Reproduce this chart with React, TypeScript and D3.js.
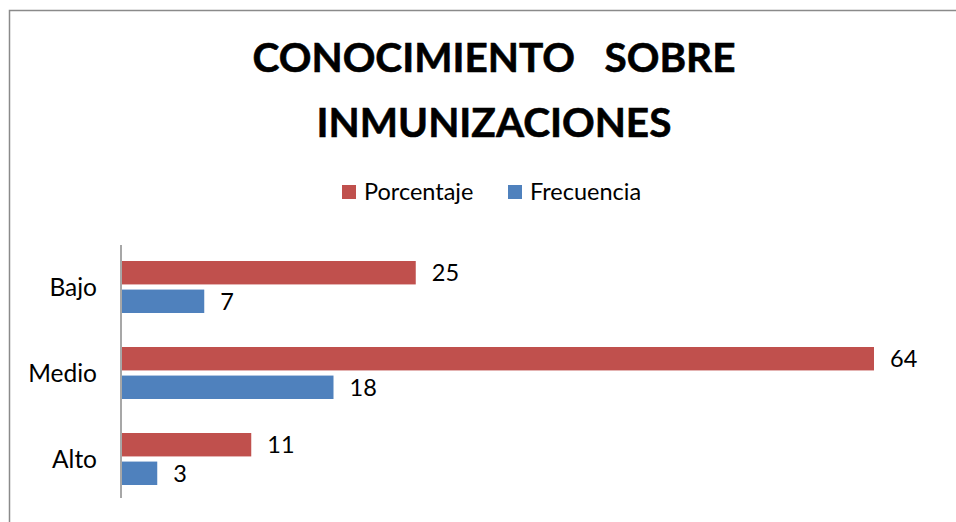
import React from "react";
import * as d3 from "d3";

const categories = ["Bajo", "Medio", "Alto"];
const seriesNames = ["Porcentaje", "Frecuencia"];
const porcentaje = [25, 64, 11];
const frecuencia = [7, 18, 3];
const titleLines = ["CONOCIMIENTO   SOBRE", "INMUNIZACIONES"];

const colors: Record<string, string> = {
  Porcentaje: "#C0504D",
  Frecuencia: "#4F81BD",
};

const W = 956;
const H = 522;
const font = "Lato, 'Open Sans', sans-serif";

const App = () => {
  const values: Record<string, number[]> = {
    Porcentaje: porcentaje,
    Frecuencia: frecuencia,
  };

  // horizontal value scale, bars start at the axis line
  const x = d3.scaleLinear().domain([0, 64]).range([122, 874]);
  const y = d3.scaleBand().domain(categories).range([244, 502]);
  const bw = y.bandwidth();
  const ySub = d3
    .scaleBand()
    .domain(seriesNames)
    .range([17, bw - 17])
    .paddingInner(0.18);

  return (
    <svg
      width={W}
      height={H}
      style={{ position: "absolute", left: 0, top: 0, background: "#fff" }}
    >
      {/* chart border (only left/top visible in frame) */}
      <rect
        x={9.5}
        y={10.5}
        width={W + 20}
        height={H + 20}
        fill="#fff"
        stroke="#8a8a8a"
        strokeWidth={1.5}
      />

      {/* title */}
      {titleLines.map((t, i) => (
        <text
          key={t}
          x={494}
          y={72 + i * 65}
          textAnchor="middle"
          fontFamily={font}
          fontWeight="bold"
          fontSize={40.5}
          fill="#000"
          stroke="#000"
          strokeWidth={0.6}
          style={{ whiteSpace: "pre" }}
        >
          {t}
        </text>
      ))}

      {/* legend */}
      {seriesNames.map((s, i) => {
        const lx = [342, 508][i];
        return (
          <g key={s}>
            <rect x={lx} y={185} width={14} height={14} fill={colors[s]} />
            <text
              x={lx + 22}
              y={199.5}
              fontFamily={font}
              fontSize={23.5}
              fill="#000"
            >
              {s}
            </text>
          </g>
        );
      })}

      {/* bars */}
      {categories.map((c, ci) => (
        <g key={c} transform={`translate(0,${y(c)})`}>
          {seriesNames.map((s) => {
            const v = values[s][ci];
            const by = ySub(s)!;
            return (
              <g key={s}>
                <rect
                  x={x(0)}
                  y={by}
                  width={x(v) - x(0)}
                  height={ySub.bandwidth()}
                  fill={colors[s]}
                />
                <text
                  x={x(v) + 16}
                  y={by + ySub.bandwidth() / 2}
                  dy="0.36em"
                  fontFamily={font}
                  fontSize={23.5}
                  fill="#000"
                >
                  {v}
                </text>
              </g>
            );
          })}
          <text
            x={97}
            y={bw / 2}
            dy="0.36em"
            textAnchor="end"
            fontFamily={font}
            fontSize={24.5}
            fill="#000"
          >
            {c}
          </text>
        </g>
      ))}

      {/* category axis line */}
      <line
        x1={121}
        x2={121}
        y1={245}
        y2={498}
        stroke="#8a8a8a"
        strokeWidth={1.5}
      />
    </svg>
  );
};

export default App;
